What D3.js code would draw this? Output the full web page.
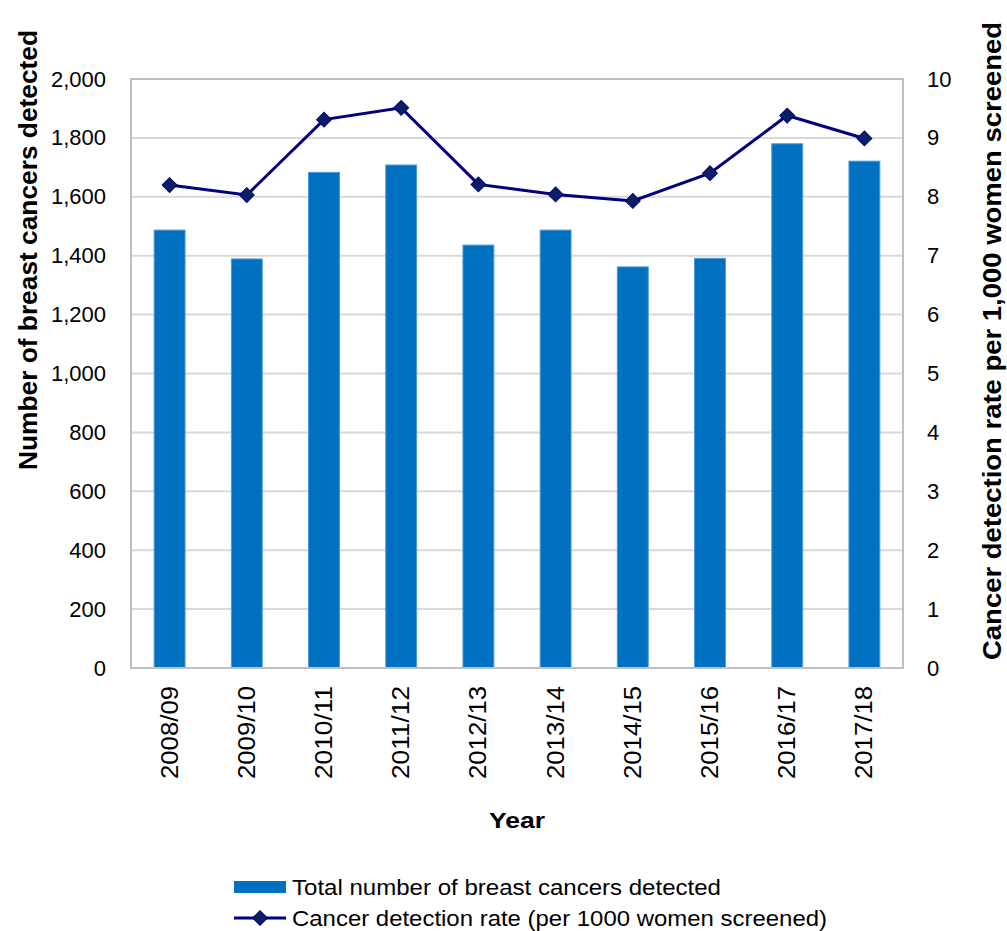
<!DOCTYPE html>
<html>
<head>
<meta charset="utf-8">
<script src="https://cdn.jsdelivr.net/npm/d3@7"></script>
<style>
  html, body { margin: 0; padding: 0; background: #fff; }
  svg { display: block; font-family: "Liberation Sans", Arial, sans-serif; }
</style>
</head>
<body>
<svg id="chart" width="1007" height="931"></svg>
<script>
// Screening years
const years = ["2008/09", "2009/10", "2010/11", "2011/12", "2012/13",
               "2013/14", "2014/15", "2015/16", "2016/17", "2017/18"];
// Total number of breast cancers detected
const cancersDetected = [1487, 1389, 1683, 1708, 1436, 1487, 1362, 1391, 1780, 1721];
// Cancer detection rate per 1,000 women screened
const detectionRate = [8.20, 8.03, 9.31, 9.51, 8.21, 8.04, 7.93, 8.40, 9.38, 8.99];
// Axis ticks
const leftTicks = [0, 200, 400, 600, 800, 1000, 1200, 1400, 1600, 1800, 2000];
const rightTicks = [0, 1, 2, 3, 4, 5, 6, 7, 8, 9, 10];

const svg = d3.select("#chart");
const plot = { left: 131, right: 903, top: 79, bottom: 668 };
const FONT = "Liberation Sans, Arial, sans-serif";

const x = d3.scaleBand().domain(years).range([plot.left, plot.right]).paddingInner(0.6).paddingOuter(0.3);
const yL = d3.scaleLinear().domain([0, 2000]).range([plot.bottom, plot.top]);
const yR = d3.scaleLinear().domain([0, 10]).range([plot.bottom, plot.top]);
const fmt = d3.format(",");

// Gridlines
svg.append("g").selectAll("line").data(leftTicks.slice(1, -1)).join("line")
  .attr("x1", plot.left).attr("x2", plot.right)
  .attr("y1", d => yL(d)).attr("y2", d => yL(d))
  .attr("stroke", "#d9d9d9").attr("stroke-width", 2);

// Bars
svg.append("g").selectAll("rect").data(years).join("rect")
  .attr("x", d => x(d))
  .attr("y", (d, i) => yL(cancersDetected[i]))
  .attr("width", x.bandwidth())
  .attr("height", (d, i) => yL(0) - yL(cancersDetected[i]))
  .attr("fill", "#0070c0")
  .attr("stroke", "#4f9ad6").attr("stroke-width", 1);

// Plot frame
svg.append("rect")
  .attr("x", plot.left).attr("y", plot.top)
  .attr("width", plot.right - plot.left).attr("height", plot.bottom - plot.top)
  .attr("fill", "none").attr("stroke", "#bfbfbf").attr("stroke-width", 2);

// Detection rate line
const cx = d => x(d) + x.bandwidth() / 2;
const line = d3.line().x((d, i) => cx(years[i])).y(d => yR(d));
svg.append("path").datum(detectionRate)
  .attr("d", line).attr("fill", "none")
  .attr("stroke", "#000080").attr("stroke-width", 3);

const diamond = d3.symbol().type(d3.symbolSquare).size(110);
svg.append("g").selectAll("path").data(detectionRate).join("path")
  .attr("d", diamond)
  .attr("transform", (d, i) => `translate(${cx(years[i])},${yR(d)}) rotate(45)`)
  .attr("fill", "#0c1f64").attr("stroke", "#000080").attr("stroke-width", 1);

// Left axis labels
const leftAxis = d3.axisLeft(yL).tickValues(leftTicks).tickFormat(fmt).tickSize(0).tickPadding(25);
const gL = svg.append("g").attr("transform", `translate(${plot.left},0)`).call(leftAxis);
gL.select(".domain").remove();
gL.selectAll("text").attr("font-size", 22).attr("fill", "#000").attr("font-family", FONT);

// Right axis labels
const rightAxis = d3.axisRight(yR).tickValues(rightTicks).tickFormat(d3.format("d")).tickSize(0).tickPadding(24);
const gR = svg.append("g").attr("transform", `translate(${plot.right},0)`).call(rightAxis);
gR.select(".domain").remove();
gR.selectAll("text").attr("font-size", 22).attr("fill", "#000").attr("font-family", FONT);

// Category labels (rotated)
const bottomAxis = d3.axisBottom(x).tickSize(0).tickPadding(0);
const gB = svg.append("g").attr("transform", `translate(0,${plot.bottom})`).call(bottomAxis);
gB.select(".domain").remove();
gB.selectAll("text")
  .attr("font-size", 23).attr("fill", "#000").attr("font-family", FONT)
  .attr("text-anchor", "end")
  .attr("dy", null)
  .attr("textLength", 93).attr("lengthAdjust", "spacingAndGlyphs")
  .attr("transform", "translate(8,18) rotate(-90)");

// Axis titles
svg.append("text")
  .attr("transform", "translate(37,250) rotate(-90)")
  .attr("text-anchor", "middle").attr("font-size", 26).attr("font-weight", "bold")
  .attr("textLength", 440).attr("lengthAdjust", "spacingAndGlyphs")
  .text("Number of breast cancers detected");

svg.append("text")
  .attr("transform", "translate(1001,341) rotate(-90)")
  .attr("text-anchor", "middle").attr("font-size", 26).attr("font-weight", "bold")
  .attr("textLength", 638).attr("lengthAdjust", "spacingAndGlyphs")
  .text("Cancer detection rate per 1,000 women screened");

svg.append("text")
  .attr("x", (plot.left + plot.right) / 2 - 28).attr("y", 828)
  .attr("font-size", 22).attr("font-weight", "bold")
  .attr("textLength", 56).attr("lengthAdjust", "spacingAndGlyphs")
  .text("Year");

// Legend
const legend = svg.append("g");
legend.append("rect").attr("x", 234).attr("y", 881).attr("width", 52).attr("height", 12).attr("fill", "#0070c0");
legend.append("text").attr("x", 292).attr("y", 887).attr("dy", "0.35em").attr("font-size", 22)
  .attr("textLength", 429).attr("lengthAdjust", "spacingAndGlyphs")
  .text("Total number of breast cancers detected");
legend.append("line").attr("x1", 234).attr("x2", 286).attr("y1", 918).attr("y2", 918)
  .attr("stroke", "#000080").attr("stroke-width", 3);
legend.append("path").attr("d", diamond).attr("transform", "translate(260,918) rotate(45)")
  .attr("fill", "#0c1f64").attr("stroke", "#000080").attr("stroke-width", 1);
legend.append("text").attr("x", 292).attr("y", 918).attr("dy", "0.35em").attr("font-size", 22)
  .attr("textLength", 535).attr("lengthAdjust", "spacingAndGlyphs")
  .text("Cancer detection rate (per 1000 women screened)");
</script>
</body>
</html>
